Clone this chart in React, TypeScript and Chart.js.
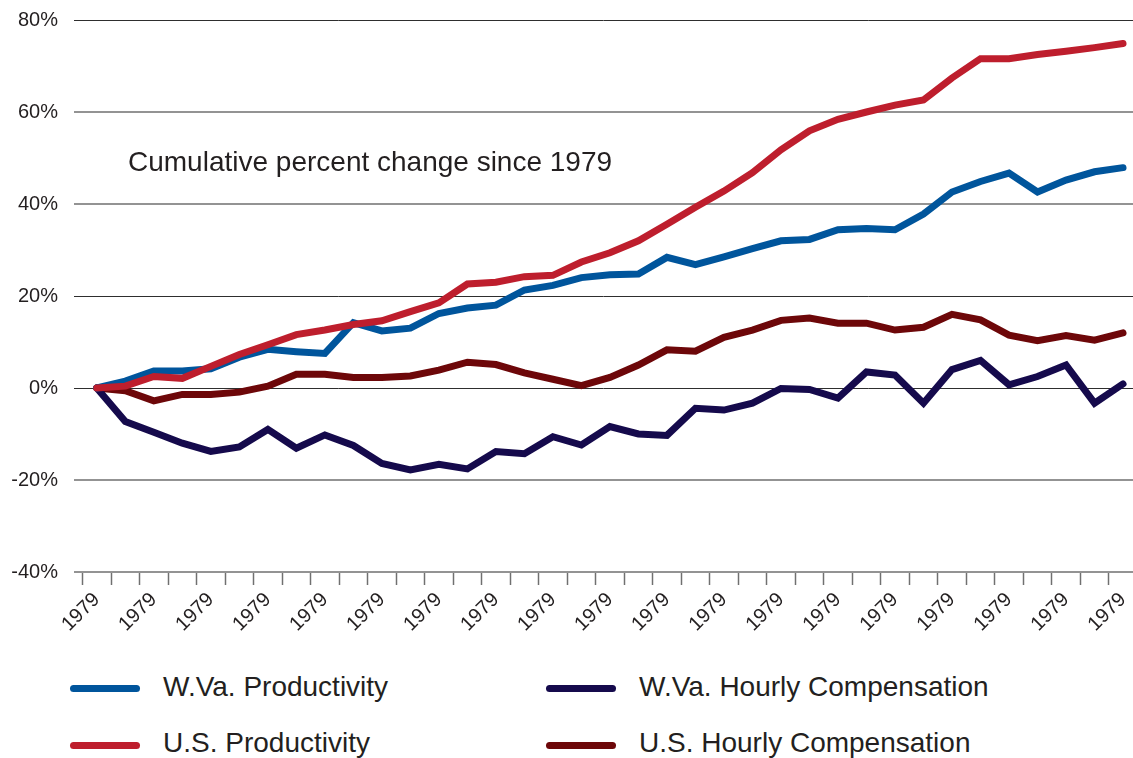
import React, { useEffect, useRef } from 'react';
import { Chart, registerables } from 'chart.js';

Chart.register(...registerables);

// ---- data ----
const categories = [
  '1979', '1979', '1979', '1979', '1979', '1979', '1979', '1979', '1979', '1979',
  '1979', '1979', '1979', '1979', '1979', '1979', '1979', '1979', '1979', '1979',
  '1979', '1979', '1979', '1979', '1979', '1979', '1979', '1979', '1979', '1979',
  '1979', '1979', '1979', '1979', '1979', '1979', '1979',
];

const wvProductivity = [
  0, 1.5, 3.7, 3.7, 4.2, 6.7, 8.4, 7.9, 7.5, 14.2,
  12.4, 13.0, 16.2, 17.4, 18.0, 21.3, 22.3, 24.0, 24.6, 24.8,
  28.4, 26.8, 28.5, 30.3, 32.0, 32.3, 34.4, 34.7, 34.4, 37.8,
  42.6, 44.9, 46.7, 42.6, 45.2, 47.0, 47.9,
];

const usProductivity = [
  0, 0.4, 2.5, 2.1, 4.7, 7.3, 9.4, 11.6, 12.6, 13.8,
  14.6, 16.6, 18.5, 22.6, 23.0, 24.2, 24.5, 27.4, 29.4, 32.0,
  35.6, 39.3, 42.8, 46.8, 51.8, 55.9, 58.4, 60.0, 61.5, 62.6,
  67.4, 71.6, 71.6, 72.5, 73.2, 74.0, 74.9,
];

const wvCompensation = [
  0, -7.3, -9.6, -12.0, -13.8, -12.8, -9.0, -13.1, -10.2, -12.5,
  -16.4, -17.8, -16.6, -17.6, -13.8, -14.3, -10.6, -12.4, -8.4, -10.0,
  -10.3, -4.4, -4.8, -3.3, -0.1, -0.3, -2.2, 3.5, 2.8, -3.3,
  4.0, 6.0, 0.7, 2.5, 5.0, -3.3, 0.9,
];

const usCompensation = [
  0, -0.6, -2.8, -1.4, -1.4, -0.9, 0.4, 3.0, 3.0, 2.3,
  2.3, 2.6, 3.9, 5.6, 5.1, 3.3, 1.9, 0.5, 2.3, 5.0,
  8.3, 8.0, 11.0, 12.6, 14.7, 15.2, 14.1, 14.1, 12.6, 13.2,
  16.0, 14.8, 11.5, 10.3, 11.4, 10.4, 12.0,
];

const seriesLabels = [
  'W.Va. Productivity',
  'W.Va. Hourly Compensation',
  'U.S. Productivity',
  'U.S. Hourly Compensation',
];

const yTickValues = [-40, -20, 0, 20, 40, 60, 80];
const noteText = 'Cumulative percent change since 1979';

// ---- styles ----
const COLORS = {
  wvProd: '#00559c',
  wvComp: '#150a4c',
  usProd: '#be1e2d',
  usComp: '#6d0709',
};
const TEXT = '#231f20';
const FONT = '"Liberation Sans", Arial, Helvetica, sans-serif';
const darkGridValues = [80, 20, 0];

const toPoints = (values: number[]) => values.map((v, i) => ({ x: i, y: v }));

const notePlugin = {
  id: 'noteText',
  afterDatasetsDraw(chart: any) {
    const ctx = chart.ctx;
    ctx.save();
    ctx.font = `28px ${FONT}`;
    ctx.fillStyle = TEXT;
    ctx.textBaseline = 'alphabetic';
    ctx.textAlign = 'left';
    ctx.fillText(noteText, 128, 171);
    ctx.restore();
  },
};

const legendItems = [
  { label: seriesLabels[0], color: COLORS.wvProd, col: 0, row: 0 },
  { label: seriesLabels[1], color: COLORS.wvComp, col: 1, row: 0 },
  { label: seriesLabels[2], color: COLORS.usProd, col: 0, row: 1 },
  { label: seriesLabels[3], color: COLORS.usComp, col: 1, row: 1 },
];

export default function App() {
  const canvasRef = useRef<HTMLCanvasElement | null>(null);

  useEffect(() => {
    if (!canvasRef.current) return;
    const halfTicks: number[] = categories.map((_, i) => i - 0.5);
    const labelTicks: number[] = categories.map((_, i) => i).filter((i) => i % 2 === 0);
    const allTicks = [...halfTicks, ...labelTicks].sort((a, b) => a - b);

    const chart = new Chart(canvasRef.current, {
      type: 'line',
      data: {
        datasets: [
          {
            label: seriesLabels[0],
            data: toPoints(wvProductivity),
            borderColor: COLORS.wvProd,
            backgroundColor: COLORS.wvProd,
            order: 2,
          },
          {
            label: seriesLabels[1],
            data: toPoints(wvCompensation),
            borderColor: COLORS.wvComp,
            backgroundColor: COLORS.wvComp,
            order: 3,
          },
          {
            label: seriesLabels[2],
            data: toPoints(usProductivity),
            borderColor: COLORS.usProd,
            backgroundColor: COLORS.usProd,
            order: 1,
          },
          {
            label: seriesLabels[3],
            data: toPoints(usCompensation),
            borderColor: COLORS.usComp,
            backgroundColor: COLORS.usComp,
            order: 4,
          },
        ],
      },
      options: {
        animation: false,
        responsive: false,
        devicePixelRatio: 1,
        layout: { padding: { top: 20, right: 0, left: 0, bottom: 0 } },
        elements: {
          line: {
            borderWidth: 7,
            tension: 0,
            borderCapStyle: 'round',
            borderJoinStyle: 'miter',
            fill: false,
          },
          point: { radius: 0, hoverRadius: 0 },
        },
        plugins: {
          legend: { display: false },
          tooltip: { enabled: false },
          title: { display: false },
        },
        scales: {
          x: {
            type: 'linear',
            min: -0.8,
            max: 36.35,
            afterBuildTicks: (scale: any) => {
              scale.ticks = allTicks.map((v) => ({ value: v }));
            },
            afterFit: (scale: any) => {
              scale.height = 68;
              scale.paddingLeft = 0;
              scale.paddingRight = 0;
            },
            border: { display: false },
            grid: {
              drawOnChartArea: false,
              drawTicks: true,
              tickLength: 13,
              tickWidth: 1.5,
              tickColor: (ctx: any) =>
                ctx.tick && Number.isInteger(ctx.tick.value) ? 'rgba(0,0,0,0)' : '#707070',
            },
            ticks: {
              autoSkip: false,
              minRotation: 45,
              maxRotation: 45,
              padding: 3,
              color: TEXT,
              font: { family: FONT, size: 20 },
              callback: (value: any) => {
                const v = Number(value);
                return Number.isInteger(v) && v % 2 === 0 ? categories[v] : '';
              },
            },
          },
          y: {
            type: 'linear',
            min: yTickValues[0],
            max: yTickValues[yTickValues.length - 1],
            afterBuildTicks: (scale: any) => {
              scale.ticks = yTickValues.map((v) => ({ value: v }));
            },
            afterFit: (scale: any) => {
              scale.width = 74;
              scale.paddingTop = 0;
            },
            border: { display: false },
            grid: {
              drawTicks: false,
              color: (ctx: any) =>
                ctx.tick && darkGridValues.includes(ctx.tick.value) ? '#2e2e2e' : '#939393',
              lineWidth: (ctx: any) =>
                ctx.tick && darkGridValues.includes(ctx.tick.value) ? 1 : 2,
            },
            ticks: {
              padding: 16,
              color: TEXT,
              font: { family: FONT, size: 20 },
              callback: (value: any) => `${value}%`,
            },
          },
        },
      },
      plugins: [notePlugin],
    } as any);

    return () => chart.destroy();
  }, []);

  return (
    <div
      style={{
        position: 'absolute',
        left: 0,
        top: 0,
        width: 1133,
        height: 758,
        overflow: 'hidden',
        background: '#ffffff',
        fontFamily: FONT,
      }}
    >
      <canvas
        ref={canvasRef}
        width={1133}
        height={640}
        style={{ display: 'block', width: 1133, height: 640 }}
      />
      {legendItems.map((item) => {
        const left = item.col === 0 ? 70 : 546;
        const centerY = item.row === 0 ? 688 : 745;
        const baseline = item.row === 0 ? 697 : 753;
        return (
          <React.Fragment key={item.label}>
            <div
              style={{
                position: 'absolute',
                left,
                top: centerY - 3.5,
                width: 70,
                height: 7,
                borderRadius: 3.5,
                background: item.color,
              }}
            />
            <div
              style={{
                position: 'absolute',
                left: left + 93,
                top: baseline - 23.7,
                fontSize: 28,
                lineHeight: '28px',
                color: TEXT,
                whiteSpace: 'nowrap',
              }}
            >
              {item.label}
            </div>
          </React.Fragment>
        );
      })}
    </div>
  );
}
